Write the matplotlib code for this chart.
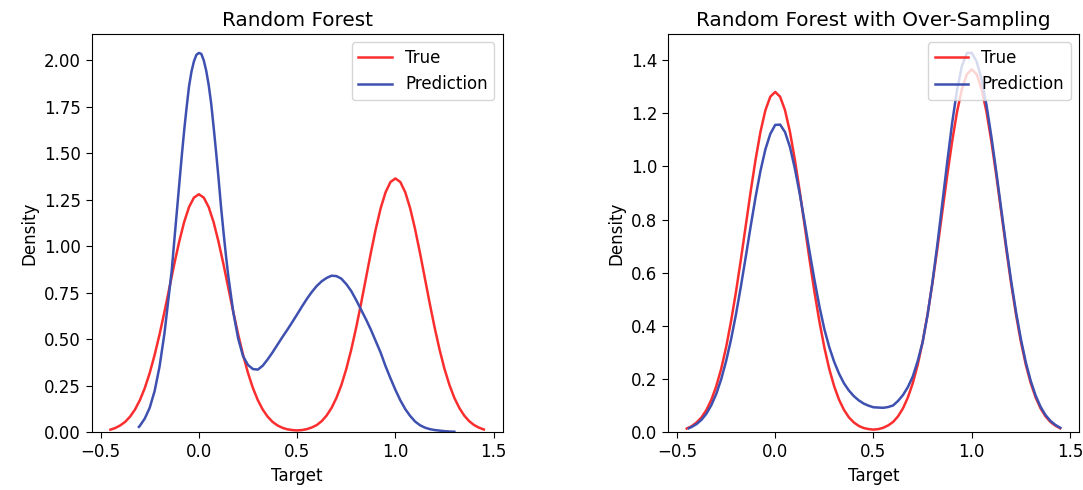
import numpy as np
import matplotlib.pyplot as plt
from matplotlib.ticker import MultipleLocator

plt.rcParams['font.size'] = 12
plt.rcParams['axes.titlesize'] = 14.4
plt.rcParams['lines.linewidth'] = 1.8
plt.rcParams['xtick.major.size'] = 4.2
plt.rcParams['ytick.major.size'] = 4.2

# density curves (x = target value, y = density)
true_x = [-0.45, -0.425, -0.4, -0.375, -0.35, -0.325, -0.3, -0.275, -0.25, -0.225,
          -0.2, -0.175, -0.15, -0.125, -0.1, -0.075, -0.05, -0.025, 0.0, 0.025,
          0.05, 0.075, 0.1, 0.125, 0.15, 0.175, 0.2, 0.225, 0.25, 0.275,
          0.3, 0.325, 0.35, 0.375, 0.4, 0.425, 0.45, 0.475, 0.5, 0.525,
          0.55, 0.575, 0.6, 0.625, 0.65, 0.675, 0.7, 0.725, 0.75, 0.775,
          0.8, 0.825, 0.85, 0.875, 0.9, 0.925, 0.95, 0.975, 1.0, 1.025,
          1.05, 1.075, 1.1, 1.125, 1.15, 1.175, 1.2, 1.225, 1.25, 1.275,
          1.3, 1.325, 1.35, 1.375, 1.4, 1.425, 1.45]
true_y = [0.014, 0.023, 0.037, 0.056, 0.084, 0.122, 0.173, 0.238, 0.319, 0.416,
          0.526, 0.648, 0.776, 0.905, 1.025, 1.130, 1.211, 1.262, 1.280, 1.262,
          1.211, 1.130, 1.025, 0.905, 0.776, 0.648, 0.526, 0.416, 0.319, 0.238,
          0.173, 0.122, 0.084, 0.056, 0.037, 0.024, 0.016, 0.012, 0.010, 0.012,
          0.017, 0.026, 0.039, 0.060, 0.090, 0.131, 0.185, 0.254, 0.340, 0.443,
          0.561, 0.691, 0.828, 0.965, 1.093, 1.205, 1.291, 1.346, 1.365, 1.346,
          1.291, 1.205, 1.093, 0.965, 0.828, 0.691, 0.561, 0.443, 0.340, 0.254,
          0.185, 0.131, 0.090, 0.060, 0.039, 0.025, 0.015]

# Random Forest predictions
rf_x = [-0.305, -0.3, -0.275, -0.25, -0.225, -0.2, -0.175, -0.15, -0.1375, -0.125,
        -0.1125, -0.1, -0.0875, -0.075, -0.0625, -0.05, -0.0375, -0.025, -0.0125, 0.0,
        0.0125, 0.025, 0.0375, 0.05, 0.0625, 0.075, 0.0875, 0.1, 0.1125, 0.125,
        0.1375, 0.15, 0.175, 0.2, 0.225, 0.25, 0.275, 0.3, 0.325, 0.35,
        0.375, 0.4, 0.425, 0.45, 0.475, 0.5, 0.525, 0.55, 0.575, 0.6,
        0.625, 0.65, 0.675, 0.7, 0.725, 0.75, 0.775, 0.8, 0.825, 0.85,
        0.875, 0.9, 0.925, 0.95, 0.975, 1.0, 1.025, 1.05, 1.075, 1.1,
        1.125, 1.15, 1.175, 1.2, 1.225, 1.25, 1.275, 1.3]
rf_y = [0.029, 0.035, 0.074, 0.132, 0.222, 0.353, 0.532, 0.760, 0.875, 1.030,
        1.180, 1.330, 1.480, 1.620, 1.745, 1.860, 1.940, 1.995, 2.030, 2.040,
        2.035, 2.000, 1.944, 1.868, 1.770, 1.643, 1.509, 1.368, 1.216, 1.081,
        0.954, 0.838, 0.647, 0.504, 0.409, 0.362, 0.340, 0.337, 0.358, 0.392,
        0.430, 0.471, 0.512, 0.551, 0.592, 0.634, 0.677, 0.718, 0.755, 0.787,
        0.812, 0.830, 0.842, 0.840, 0.826, 0.797, 0.760, 0.712, 0.660, 0.608,
        0.552, 0.490, 0.428, 0.355, 0.290, 0.228, 0.172, 0.125, 0.088, 0.058,
        0.038, 0.025, 0.017, 0.012, 0.009, 0.006, 0.004, 0.003]

# Random Forest with over-sampling predictions
os_x = [-0.44, -0.425, -0.4, -0.375, -0.35, -0.325, -0.3, -0.275, -0.25, -0.225,
        -0.2, -0.175, -0.15, -0.125, -0.1, -0.075, -0.05, -0.025, 0.0, 0.025,
        0.05, 0.075, 0.1, 0.125, 0.15, 0.175, 0.2, 0.225, 0.25, 0.275,
        0.3, 0.325, 0.35, 0.375, 0.4, 0.425, 0.45, 0.475, 0.5, 0.525,
        0.55, 0.575, 0.6, 0.625, 0.65, 0.675, 0.7, 0.725, 0.75, 0.775,
        0.8, 0.825, 0.85, 0.875, 0.9, 0.925, 0.95, 0.975, 1.0, 1.025,
        1.05, 1.075, 1.1, 1.125, 1.15, 1.175, 1.2, 1.225, 1.25, 1.275,
        1.3, 1.325, 1.35, 1.375, 1.4, 1.425, 1.45]
os_y = [0.015, 0.020, 0.031, 0.047, 0.070, 0.102, 0.144, 0.199, 0.267, 0.348,
        0.442, 0.547, 0.659, 0.774, 0.884, 0.983, 1.064, 1.122, 1.156, 1.157,
        1.129, 1.073, 0.992, 0.896, 0.789, 0.678, 0.572, 0.473, 0.388, 0.320,
        0.265, 0.220, 0.184, 0.157, 0.136, 0.120, 0.108, 0.100, 0.094, 0.093,
        0.092, 0.095, 0.101, 0.118, 0.140, 0.170, 0.210, 0.268, 0.339, 0.441,
        0.565, 0.706, 0.860, 1.015, 1.162, 1.287, 1.378, 1.426, 1.427, 1.394,
        1.327, 1.230, 1.111, 0.978, 0.839, 0.701, 0.571, 0.453, 0.350, 0.263,
        0.193, 0.138, 0.096, 0.065, 0.043, 0.028, 0.017]

red = '#fa2e2e'
blue = '#3e50b0'

fig, axes = plt.subplots(1, 2, figsize=(10.83, 4.9), dpi=100)
plt.subplots_adjust(left=0.0847, right=0.9962, bottom=0.1178, top=0.9306, wspace=0.403)

panels = [('Random Forest', rf_x, rf_y),
          ('Random Forest with Over-Sampling', os_x, os_y)]

for ax, (title, px, py) in zip(axes, panels):
    ax.plot(true_x, true_y, color=red, label='True')
    ax.plot(px, py, color=blue, label='Prediction')
    ax.set_ylim(bottom=0)
    ax.xaxis.set_major_locator(MultipleLocator(0.5))
    ax.set_title(title)
    ax.set_xlabel('Target')
    ax.set_ylabel('Density')
    ax.legend(loc='upper right')

plt.savefig('out.png', dpi=100)
